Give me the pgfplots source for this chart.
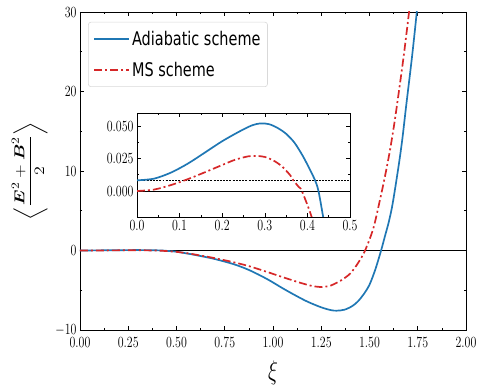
\documentclass[border=0pt]{standalone}
\usepackage{pgfplots}
\pgfplotsset{compat=1.18}
\usepackage{pgfplotstable}
\usepackage{amsmath}
\usepackage{graphicx}
\usepackage{fontspec}
\newfontfamily\dejavu{DejaVu Sans}
\definecolor{tabblue}{HTML}{1F77B4}
\definecolor{tabred}{HTML}{D62728}

\pgfplotstableread{
x y
0.00 0.0082
0.04 0.0095
0.08 0.0142
0.12 0.0212
0.16 0.0297
0.20 0.0383
0.24 0.0457
0.27 0.0505
0.29 0.0520
0.31 0.0514
0.33 0.0485
0.35 0.0440
0.37 0.0370
0.39 0.0265
0.405 0.0170
0.418 0.0082
0.426 0.0000
0.437 -0.0200
0.45 -0.045
0.47 -0.085
0.50 -0.15
0.57 -0.44
0.63 -0.72
0.70 -1.08
0.80 -1.75
0.88 -2.5
0.97 -3.6
1.05 -4.75
1.12 -5.7
1.18 -6.45
1.25 -7.15
1.30 -7.5
1.33 -7.57
1.37 -7.45
1.41 -7.0
1.44 -6.4
1.47 -5.5
1.50 -4.3
1.53 -2.4
1.56 0.0
1.58 1.8
1.60 3.6
1.62 5.9
1.65 10.5
1.67 14.0
1.69 18.2
1.72 24.3
1.745 30
1.76 34
}\adiab

\pgfplotstableread{
x y
0.00 0.0000
0.04 0.0011
0.08 0.0046
0.12 0.0092
0.16 0.0145
0.20 0.0200
0.23 0.0240
0.26 0.0266
0.28 0.0270
0.30 0.0262
0.32 0.0235
0.34 0.0190
0.36 0.0120
0.367 0.0082
0.38 0.0030
0.387 0.0000
0.41 -0.0200
0.43 -0.045
0.46 -0.09
0.50 -0.17
0.57 -0.40
0.63 -0.66
0.70 -0.97
0.80 -1.5
0.88 -2.0
0.97 -2.7
1.05 -3.35
1.14 -4.05
1.20 -4.45
1.24 -4.58
1.27 -4.55
1.30 -4.4
1.35 -3.8
1.40 -2.9
1.44 -1.6
1.477 0
1.52 2.8
1.554 6.35
1.58 9.3
1.606 12.6
1.63 16.2
1.658 21.0
1.68 25.0
1.705 30
1.72 33
}\msdata

\pgfplotsset{
  stretchticks/.style={
    xticklabel={\scalebox{1}[1.3]{$\pgfmathprintnumber{\tick}$}},
    yticklabel={\scalebox{1}[1.3]{$\pgfmathprintnumber{\tick}$}},
  },
}

\begin{document}
\begin{tikzpicture}
\begin{axis}[
  scale only axis, width=386bp, height=318bp,
  xmin=0, xmax=2, ymin=-10, ymax=30,
  xtick={0,0.25,0.5,0.75,1,1.25,1.5,1.75,2},
  ytick={-10,0,10,20,30},
  minor x tick num=1, minor y tick num=1,
  stretchticks,
  xticklabel style={yshift=-4bp, /pgf/number format/.cd,fixed,fixed zerofill,precision=2},
  tick align=inside,
  major tick length=4bp, minor tick length=2.2bp,
  every tick/.style={black, line width=0.6pt},
  axis line style={line width=0.8pt},
  tick label style={font=\fontsize{12.5}{14}\selectfont},
  xlabel={\scalebox{1}[1.3]{$\xi$}},
  xlabel style={font=\fontsize{21}{24}\selectfont, at={(axis description cs:0.5,-0.135)}, anchor=center},
  ylabel={\scalebox{1.25}[1]{$\displaystyle\left\langle\frac{\boldsymbol{E}^2+\boldsymbol{B}^2}{2}\right\rangle$}},
  ylabel style={font=\fontsize{15}{18}\selectfont, at={(axis description cs:-0.13,0.5)}, anchor=center},
  legend style={at={(0.021,0.969)}, anchor=north west, draw=black!15, line width=0.6pt,
    rounded corners=2.5bp, font=\dejavu\fontsize{14.5}{16}\selectfont,
    inner xsep=5bp, inner ysep=7bp, row sep=11bp},
  legend cell align=left,
  legend image code/.code={\draw[#1] (0bp,0bp) -- (35bp,0bp);},
]
\addplot[black, line width=0.7pt, forget plot] coordinates {(0,0) (2,0)};
\addplot[tabblue, line width=1.7pt, smooth] table[x=x,y=y] {\adiab};
\addlegendentry{\scalebox{1}[1.3]{Adiabatic scheme}}
\addplot[tabred, line width=1.7pt, smooth, dash pattern=on 8pt off 3pt on 2pt off 3pt] table[x=x,y=y] {\msdata};
\addlegendentry{\scalebox{1}[1.3]{MS scheme}}
\end{axis}
\begin{axis}[
  at={(57bp,113bp)}, anchor=south west,
  scale only axis, width=213bp, height=104bp,
  axis background/.style={fill=white},
  xmin=0, xmax=0.5, ymin=-0.02, ymax=0.06,
  restrict x to domain=0:0.5,
  xtick={0,0.1,0.2,0.3,0.4,0.5},
  ytick={0,0.025,0.05},
  minor x tick num=1, minor y tick num=1,
  scaled x ticks=false, scaled y ticks=false,
  stretchticks,
  xticklabel style={/pgf/number format/.cd,fixed,fixed zerofill,precision=1},
  yticklabel style={/pgf/number format/.cd,fixed,fixed zerofill,precision=3},
  tick align=inside,
  major tick length=4bp, minor tick length=2.2bp,
  every tick/.style={black, line width=0.6pt},
  axis line style={line width=0.8pt},
  tick label style={font=\fontsize{12.5}{14}\selectfont},
]
\addplot[black, line width=0.7pt] coordinates {(0,0) (0.5,0)};
\addplot[black, line width=0.6pt, dash pattern=on 2pt off 1.2pt] coordinates {(0,0.0082) (0.5,0.0082)};
\addplot[tabblue, line width=1.7pt, smooth] table[x=x,y=y] {\adiab};
\addplot[tabred, line width=1.7pt, smooth, dash pattern=on 8pt off 3pt on 2pt off 3pt] table[x=x,y=y] {\msdata};
\end{axis}
\pgfresetboundingbox
\path[use as bounding box] (-80bp,-58bp) rectangle (400bp,330bp);
\end{tikzpicture}
\end{document}
